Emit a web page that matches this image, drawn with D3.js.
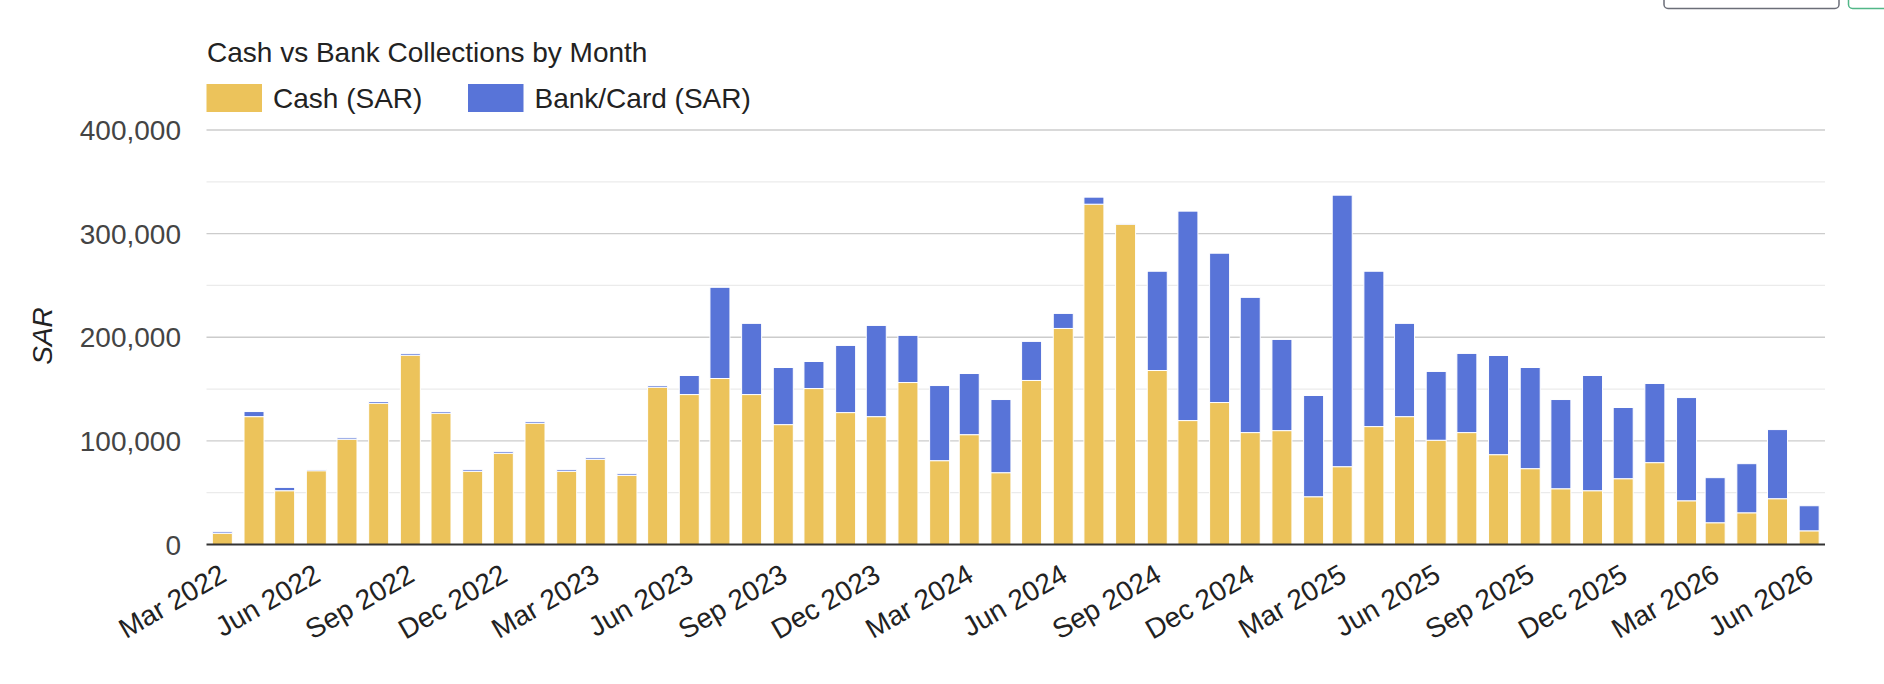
<!DOCTYPE html>
<html>
<head>
<meta charset="utf-8">
<script src="https://cdn.jsdelivr.net/npm/d3@7"></script>
<style>
  html, body { margin: 0; padding: 0; background: #fff; }
  svg { display: block; font-family: "Liberation Sans", Arial, sans-serif; }
</style>
</head>
<body>
<svg id="chart" width="1884" height="684"></svg>
<script>
// ---- Data ----
const months = [
  "2022-03","2022-04","2022-05","2022-06","2022-07","2022-08","2022-09","2022-10","2022-11","2022-12",
  "2023-01","2023-02","2023-03","2023-04","2023-05","2023-06","2023-07","2023-08","2023-09","2023-10","2023-11","2023-12",
  "2024-01","2024-02","2024-03","2024-04","2024-05","2024-06","2024-07","2024-08","2024-09","2024-10","2024-11","2024-12",
  "2025-01","2025-02","2025-03","2025-04","2025-05","2025-06","2025-07","2025-08","2025-09","2025-10","2025-11","2025-12",
  "2026-01","2026-02","2026-03","2026-04","2026-05","2026-06"
];
const cashSAR = [
  10800,123400,51900,71200,101600,136300,182700,126700,70600,88000,
  117000,70600,82200,66700,151800,144700,160200,144700,115700,150500,127300,123400,
  156300,80900,106000,69300,158300,208500,328400,309100,167900,119600,137000,108000,
  109900,46100,75100,113800,123400,100600,108000,86700,73200,53800,51900,63500,
  79000,42200,21000,30600,44200,13200
];
const bankSAR = [
  1500,4900,3200,1200,1500,1700,1700,1600,1600,1600,
  1600,1600,1600,1600,1600,18400,88000,68700,55100,26100,64800,88000,
  45500,72500,59000,70600,37700,14500,6800,1000,95800,202100,144100,130500,
  88000,97700,262000,149900,90000,66400,76400,95700,97600,86100,111200,68700,
  76400,99600,43500,47400,66700,24200
];
const seriesNames = ["Cash (SAR)", "Bank/Card (SAR)"];
const seriesColors = ["#ECC35B", "#5874D8"];
const yTicks = [0, 100000, 200000, 300000, 400000];
const yMinor = [50000, 150000, 250000, 350000];
const xTickLabels = ["Mar 2022","Jun 2022","Sep 2022","Dec 2022","Mar 2023","Jun 2023","Sep 2023","Dec 2023",
  "Mar 2024","Jun 2024","Sep 2024","Dec 2024","Mar 2025","Jun 2025","Sep 2025","Dec 2025","Mar 2026","Jun 2026"];
const chartTitle = "Cash vs Bank Collections by Month";
const yTitle = "SAR";

// ---- Layout ----
const svg = d3.select("#chart");
const plotL = 206.5, plotR = 1825, plotT = 130, plotB = 544.5;
const parse = d3.timeParse("%Y-%m");
const parseLabel = d3.timeParse("%b %Y");
const dates = months.map(parse);
const DAY = 86400000;
const x = d3.scaleTime()
  .domain([new Date(+dates[0] - 15.5 * DAY), new Date(+dates[dates.length - 1] + 15.5 * DAY)])
  .range([plotL, plotR]);
const y = d3.scaleLinear().domain([0, 400000]).range([plotB, plotT]);
const barW = 20;

// top-right partial UI boxes
svg.append("rect").attr("x", 1664).attr("y", -20).attr("width", 175).attr("height", 28.5)
  .attr("rx", 4).attr("fill", "none").attr("stroke", "#6b6e78").attr("stroke-width", 1.5);
svg.append("rect").attr("x", 1848.5).attr("y", -20).attr("width", 80).attr("height", 28.5)
  .attr("rx", 4).attr("fill", "none").attr("stroke", "#52b788").attr("stroke-width", 1.5);

// title
svg.append("text").attr("x", 207).attr("y", 61.5).attr("font-size", 28).attr("fill", "#222")
  .text(chartTitle);

// legend
const legendX = [206.5, 468];
seriesNames.forEach((n, i) => {
  svg.append("rect").attr("x", legendX[i]).attr("y", 84).attr("width", 55.5).attr("height", 28)
    .attr("fill", seriesColors[i]);
  svg.append("text").attr("x", legendX[i] + 66.5).attr("y", 108).attr("font-size", 28)
    .attr("fill", "#222").text(n);
});

// gridlines
svg.append("g").selectAll("line").data(yMinor).join("line")
  .attr("x1", plotL).attr("x2", plotR).attr("y1", d => y(d)).attr("y2", d => y(d))
  .attr("stroke", "#ebebeb").attr("stroke-width", 1.3);
svg.append("g").selectAll("line").data(yTicks.filter(d => d > 0)).join("line")
  .attr("x1", plotL).attr("x2", plotR).attr("y1", d => y(d)).attr("y2", d => y(d))
  .attr("stroke", "#cccccc").attr("stroke-width", 1.3);

// y axis labels
const fmt = d3.format(",");
svg.append("g").selectAll("text").data(yTicks).join("text")
  .attr("x", 181).attr("y", d => y(d)).attr("dy", "0.36em")
  .attr("text-anchor", "end").attr("font-size", 28).attr("fill", "#444")
  .text(d => fmt(d));

// y title
svg.append("text").attr("transform", `translate(51.5, 336) rotate(-90)`)
  .attr("text-anchor", "middle").attr("font-size", 28).attr("font-style", "italic")
  .attr("fill", "#222").text(yTitle);

// bars (stacked)
const stackData = dates.map((d, i) => ({ date: d, cash: cashSAR[i], bank: bankSAR[i] }));
const stack = d3.stack().keys(["cash", "bank"])(stackData);
const gBars = svg.append("g");
stack.forEach((layer, li) => {
  gBars.append("g").selectAll("rect").data(layer).join("rect")
    .attr("x", d => x(d.data.date) - barW / 2)
    .attr("width", barW)
    .attr("y", d => y(d[1]))
    .attr("height", d => Math.max(0, y(d[0]) - y(d[1])))
    .attr("fill", seriesColors[li])
    .attr("stroke", "#fff").attr("stroke-width", 1);
});

// baseline
svg.append("line").attr("x1", plotL).attr("x2", plotR).attr("y1", plotB).attr("y2", plotB)
  .attr("stroke", "#333").attr("stroke-width", 1.8);

// x labels
svg.append("g").selectAll("text").data(xTickLabels).join("text")
  .attr("transform", d => `translate(${x(parseLabel(d)) + 6}, 580) rotate(-30)`)
  .attr("text-anchor", "end").attr("font-size", 28).attr("fill", "#222")
  .text(d => d);
</script>
</body>
</html>
